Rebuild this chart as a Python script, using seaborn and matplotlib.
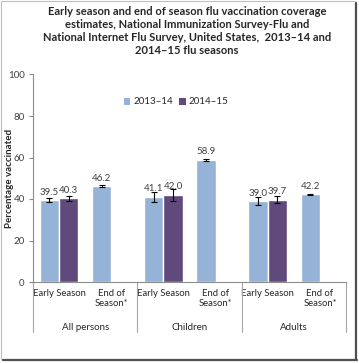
import numpy as np
import pandas as pd
import matplotlib
matplotlib.use('Agg')
import matplotlib.pyplot as plt
from matplotlib.patches import Rectangle, Patch
from matplotlib.lines import Line2D
import seaborn as sns

# chart data
groups = ['All persons', 'Children', 'Adults']
subcats = ['Early Season', 'End of\nSeason*']
seasons = ['2013–14', '2014–15']
early_1314 = [39.5, 41.1, 39.0]
early_1415 = [40.3, 42.0, 39.7]
end_1314 = [46.2, 58.9, 42.2]
err_early_1314 = [0.8, 2.4, 2.0]
err_early_1415 = [1.2, 3.0, 1.8]
err_end_1314 = [0.4, 0.6, 0.4]
colors = ['#95B3D7', '#604A7B']

title = ('Early season and end of season flu vaccination coverage\n'
         'estimates, National Immunization Survey-Flu and\n'
         'National Internet Flu Survey, United States,  2013–14 and\n'
         '2014–15 flu seasons')

# build long table
rows = []
for i, g in enumerate(groups):
    rows.append({'slot': f'{g}|early', 'season': seasons[0], 'value': early_1314[i], 'err': err_early_1314[i]})
    rows.append({'slot': f'{g}|early', 'season': seasons[1], 'value': early_1415[i], 'err': err_early_1415[i]})
    rows.append({'slot': f'{g}|end', 'season': seasons[0], 'value': end_1314[i], 'err': err_end_1314[i]})
df = pd.DataFrame(rows)
slot_order = [f'{g}|{s}' for g in groups for s in ['early', 'end']]

sns.set_style('white')
plt.rcParams['font.family'] = ['Lato', 'DejaVu Sans']

W, H = 359, 363
fig = plt.figure(figsize=(W / 100, H / 100), dpi=100)
ax = fig.add_axes([33 / W, 1 - 282 / H, 313 / W, 207.5 / H])

sns.barplot(data=df, x='slot', y='value', hue='season', order=slot_order,
            hue_order=seasons, palette=colors, width=0.74, errorbar=None,
            saturation=1, ax=ax, legend=False)

# error bars and value labels
for cont, season in zip(ax.containers, seasons):
    sub = df[df['season'] == season].set_index('slot')
    sub = sub.loc[[s for s in slot_order if s in sub.index]]
    for bar, (_, r) in zip(cont, sub.iterrows()):
        xc = bar.get_x() + bar.get_width() / 2
        ax.errorbar(xc, r['value'], yerr=r['err'], fmt='none', ecolor='black',
                    elinewidth=0.8, capsize=2.2, capthick=0.8)
        ax.annotate(f"{r['value']:.1f}", (xc, r['value']), xytext=(0, 2.5),
                    textcoords='offset points', ha='center', va='bottom',
                    fontsize=7, color='#404040')

ax.set_xlim(-0.5, 5.5)
ax.set_ylim(0, 100)
ax.set_yticks(range(0, 101, 20))
ax.tick_params(axis='y', labelsize=7, labelcolor='#404040', length=3,
               width=0.8, color='#8C8C8C', pad=3, left=True, direction='out')
ax.set_xticks(range(6))
ax.set_xticklabels(subcats * 3, fontsize=6.8, color='#262626', linespacing=1.15)
ax.tick_params(axis='x', length=0, pad=5)
ax.set_xlabel('')
ax.set_ylabel('')
sns.despine(ax=ax)
for side in ['left', 'bottom']:
    ax.spines[side].set_color('#8C8C8C')
    ax.spines[side].set_linewidth(0.8)

fig.text(10 / W, 1 - 178 / H, 'Percentage vaccinated', rotation=90,
         ha='center', va='center', fontsize=7, fontweight='bold')

# multi-level category separators and group labels
trans = ax.get_xaxis_transform()
depth = 50 / 207.5
for b in [-0.5, 1.5, 3.5, 5.5]:
    ax.plot([b, b], [0, -depth], transform=trans, clip_on=False,
            color='#A6A6A6', lw=0.8)
for i, g in enumerate(groups):
    ax.text(2 * i + 0.5, -45 / 207.5, g, transform=trans, ha='center',
            va='center', fontsize=7, color='#262626')

# legend
handles = [Patch(facecolor=c, edgecolor='none') for c in colors]
fig.legend(handles, seasons, loc='center', bbox_to_anchor=(176 / W, 1 - 102 / H),
           ncol=2, frameon=False, fontsize=7, handlelength=0.7, handleheight=0.7,
           handletextpad=0.3, columnspacing=0.6, labelcolor='#262626')

fig.text(187 / W, 1 - 31 / H, title, ha='center', va='center', fontsize=8,
         fontweight='bold', linespacing=1.25)

# picture frame with shadow
fig.add_artist(Rectangle((1 / W, 1 - 359 / H), 354 / W, 358 / H,
                         transform=fig.transFigure, fill=False,
                         edgecolor='#BFBFBF', lw=0.8))
fig.add_artist(Line2D([355.5 / W, 355.5 / W], [1 - 3 / H, 1 - 360 / H],
                      transform=fig.transFigure, color='#505050', lw=1.6))
fig.add_artist(Line2D([3 / W, 356.5 / W], [1 - 359.8 / H, 1 - 359.8 / H],
                      transform=fig.transFigure, color='#505050', lw=1.6))

fig.savefig('out.png', dpi=100)
